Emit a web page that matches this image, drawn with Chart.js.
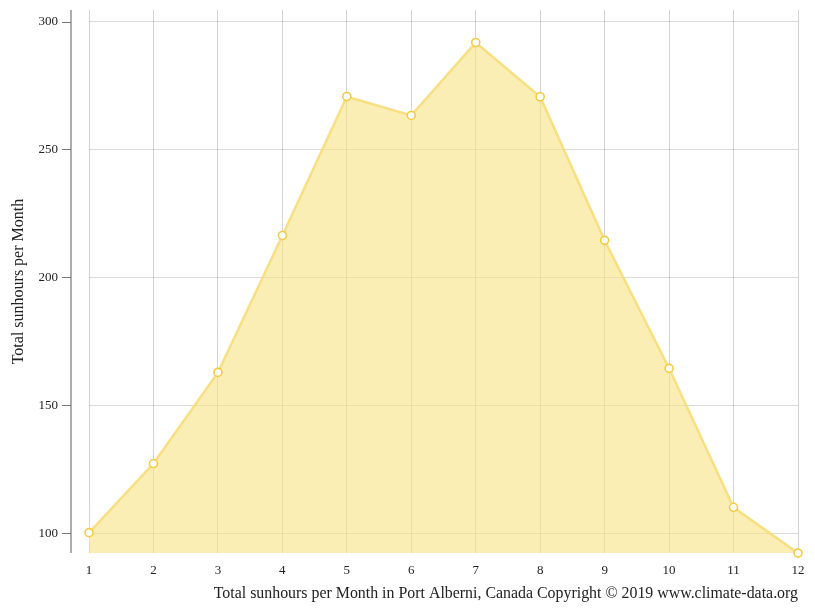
<!DOCTYPE html>
<html>
<head>
<meta charset="utf-8">
<script src="https://cdn.jsdelivr.net/npm/chart.js@4.4.0/dist/chart.umd.min.js"></script>
<style>
html,body{margin:0;padding:0;background:#fff;}
#wrap{width:815px;height:611px;}
</style>
</head>
<body>
<div id="wrap"><canvas id="c" width="815" height="611"></canvas></div>
<script>
const months = [1,2,3,4,5,6,7,8,9,10,11,12];
const sunhours = [100.3, 127.3, 162.9, 216.4, 270.7, 263.3, 291.8, 270.6, 214.5, 164.5, 110.2, 92.3];
const yTicks = [100,150,200,250,300];
const yTitle = 'Total sunhours per Month';
const chartTitle = 'Total sunhours per Month in Port Alberni, Canada Copyright © 2019 www.climate-data.org';

const FONT = '"Liberation Serif", "Times New Roman", serif';

const axisPlugin = {
  id: 'offsetAxis',
  afterDraw(chart) {
    const ctx = chart.ctx;
    const ca = chart.chartArea;
    const ys = chart.scales.y;
    const ax = ca.left - 18;
    ctx.save();
    ctx.strokeStyle = '#777';
    ctx.lineWidth = 1.2;
    ctx.beginPath();
    ctx.moveTo(ax, ca.top);
    ctx.lineTo(ax, ca.bottom);
    ctx.stroke();
    ctx.lineWidth = 1;
    yTicks.forEach(v => {
      const py = Math.round(ys.getPixelForValue(v)) + 0.5;
      ctx.beginPath();
      ctx.moveTo(ax - 9, py);
      ctx.lineTo(ax, py);
      ctx.stroke();
    });
    ctx.restore();
  }
};

new Chart(document.getElementById('c'), {
  type: 'line',
  data: {
    datasets: [{
      data: months.map((m, i) => ({x: m, y: sunhours[i]})),
      borderColor: 'rgba(246,218,110,0.8)',
      backgroundColor: 'rgba(247,226,130,0.6)',
      fill: 'start',
      borderWidth: 2.5,
      tension: 0,
      pointRadius: 4,
      pointBorderWidth: 1.6,
      pointBackgroundColor: '#fff',
      pointBorderColor: '#f2cc45',
      clip: false
    }]
  },
  options: {
    responsive: false,
    animation: false,
    devicePixelRatio: 1,
    layout: {padding: {left: 0, right: 17, top: 10, bottom: 0}},
    plugins: {
      legend: {display: false},
      tooltip: {enabled: false},
      title: {
        display: true,
        text: chartTitle,
        position: 'bottom',
        align: 'end',
        color: '#222',
        font: {family: FONT, size: 15.9, weight: 'normal'},
        padding: {top: 4, bottom: 8}
      }
    },
    scales: {
      x: {
        type: 'linear',
        min: 1, max: 12,
        afterBuildTicks(s) { s.ticks = months.map(v => ({value: v})); },
        afterFit(s) { s.height = 26.8; },
        grid: {color: 'rgba(0,0,0,0.17)', drawTicks: false},
        border: {display: false},
        ticks: {color: '#222', padding: 10, font: {family: FONT, size: 13}, maxRotation: 0}
      },
      y: {
        min: 92.3, max: 304.5,
        afterBuildTicks(s) { s.ticks = yTicks.map(v => ({value: v})); },
        afterFit(s) { s.width = 89; },
        grid: {color: 'rgba(0,0,0,0.14)', drawTicks: true, tickLength: 31, tickColor: 'rgba(0,0,0,0)'},
        border: {display: false},
        ticks: {color: '#222', padding: 0, font: {family: FONT, size: 13}},
        title: {
          display: true,
          text: yTitle,
          color: '#222',
          font: {family: FONT, size: 16},
          padding: {top: 9, bottom: 4}
        }
      }
    }
  },
  plugins: [axisPlugin]
});
</script>
</body>
</html>
